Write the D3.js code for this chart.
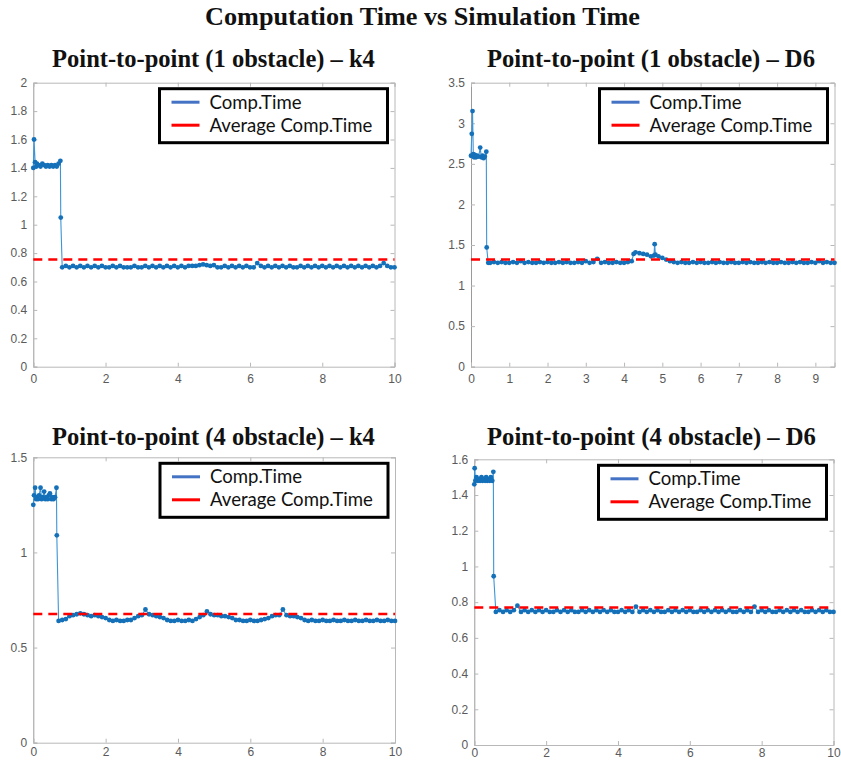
<!DOCTYPE html>
<html><head><meta charset="utf-8">
<script src="https://cdn.jsdelivr.net/npm/d3@7"></script>
<style>body{margin:0;background:#fff}</style>
</head><body>
<svg id="c" width="841" height="763"></svg>
<script>
// ---------------- DATA ----------------
const mainTitle = "Computation Time vs Simulation Time";
const panelTitles = [
  "Point-to-point (1 obstacle) – k4",
  "Point-to-point (1 obstacle) – D6",
  "Point-to-point (4 obstacle) – k4",
  "Point-to-point (4 obstacle) – D6"
];
const legendLabels = ["Comp.Time", "Average Comp.Time"];

// Panel 1: 1 obstacle, k4
const k4_1_time = [0,0.02,0.05,0.08,0.1,0.15,0.2,0.25,0.3,0.35,0.4,0.45,0.5,0.55,0.6,0.65,0.7,0.75,0.76,
  0.8,0.9,1,1.1,1.2,1.3,1.4,1.5,1.6,1.7,
  1.8,1.9,2,2.1,2.2,2.3,2.4,2.5,2.6,2.7,
  2.8,2.9,3,3.1,3.2,3.3,3.4,3.5,3.6,3.7,
  3.8,3.9,4,4.1,4.2,4.3,4.4,4.5,4.6,4.7,
  4.8,4.9,5,5.1,5.2,5.3,5.4,5.5,5.6,5.7,
  5.8,5.9,6,6.1,6.2,6.3,6.4,6.5,6.6,6.7,
  6.8,6.9,7,7.1,7.2,7.3,7.4,7.5,7.6,7.7,
  7.8,7.9,8,8.1,8.2,8.3,8.4,8.5,8.6,8.7,
  8.8,8.9,9,9.1,9.2,9.3,9.4,9.5,9.6,9.7,
  9.8,9.9,10];
const k4_1_comp = [1.40,1.60,1.44,1.41,1.43,1.42,1.41,1.43,1.42,1.41,1.42,1.41,1.42,1.41,1.42,1.41,1.43,1.45,1.05,
  0.70,0.71,0.70,0.71,0.70,0.71,0.70,0.71,0.70,0.71,
  0.70,0.71,0.70,0.70,0.71,0.70,0.71,0.70,0.70,0.70,
  0.71,0.70,0.70,0.71,0.70,0.71,0.70,0.71,0.70,0.71,
  0.70,0.71,0.70,0.71,0.70,0.71,0.71,0.71,0.715,0.72,
  0.715,0.71,0.715,0.70,0.70,0.71,0.70,0.71,0.70,0.71,
  0.70,0.71,0.70,0.70,0.73,0.71,0.70,0.71,0.70,0.71,
  0.70,0.71,0.70,0.71,0.70,0.70,0.71,0.70,0.71,0.70,
  0.71,0.70,0.71,0.70,0.71,0.70,0.71,0.70,0.71,0.70,
  0.71,0.70,0.71,0.70,0.71,0.70,0.71,0.70,0.71,0.73,
  0.71,0.70,0.70];
const k4_1_avg = 0.755;
const k4_1_xTicks = [0,2,4,6,8,10];
const k4_1_yTicks = [0,0.2,0.4,0.6,0.8,1,1.2,1.4,1.6,1.8,2];

// Panel 2: 1 obstacle, D6
const d6_1_time = [0,0.02,0.04,0.06,0.08,0.1,0.13,0.16,0.2,0.24,0.27,0.3,0.33,0.36,0.4,0.41,
  0.45,
  0.5,0.6,0.7,0.8,0.9,1,1.1,1.2,1.3,1.4,
  1.5,1.6,1.7,1.8,1.9,2,2.1,2.2,2.3,2.4,
  2.5,2.6,2.7,2.8,2.9,3,3.1,3.2,3.3,3.4,
  3.5,3.6,3.7,3.8,3.9,4,4.1,4.2,
  4.25,4.3,4.4,4.5,4.6,4.7,
  4.78,4.8,4.82,
  4.9,5,5.1,5.2,5.3,
  5.4,5.5,5.6,5.7,5.8,5.9,6,6.1,6.2,6.3,
  6.4,6.5,6.6,6.7,6.8,6.9,7,7.1,7.2,7.3,
  7.4,7.5,7.6,7.7,7.8,7.9,8,8.1,8.2,8.3,
  8.4,8.5,8.6,8.7,8.8,8.9,9,9.1,9.2,9.3,
  9.4,9.5];
const d6_1_comp = [2.60,2.87,3.15,2.62,2.58,2.61,2.58,2.60,2.59,2.70,2.58,2.60,2.57,2.59,2.65,1.47,
  1.28,
  1.28,1.29,1.28,1.29,1.28,1.28,1.29,1.28,1.30,1.28,
  1.29,1.28,1.28,1.29,1.28,1.29,1.28,1.28,1.29,1.28,
  1.29,1.28,1.28,1.29,1.28,1.30,1.28,1.29,1.33,1.28,
  1.29,1.28,1.28,1.29,1.28,1.28,1.29,1.30,
  1.39,1.41,1.40,1.39,1.38,1.36,
  1.37,1.51,1.38,
  1.36,1.34,1.32,1.30,1.29,
  1.28,1.29,1.28,1.28,1.29,1.28,1.29,1.28,1.28,1.29,
  1.28,1.29,1.28,1.28,1.29,1.28,1.28,1.29,1.28,1.29,
  1.28,1.28,1.29,1.28,1.29,1.28,1.28,1.29,1.28,1.28,
  1.29,1.28,1.29,1.28,1.28,1.29,1.28,1.30,1.28,1.29,
  1.28,1.28];
const d6_1_avg = 1.32;
const d6_1_xTicks = [0,1,2,3,4,5,6,7,8,9];
const d6_1_yTicks = [0,0.5,1,1.5,2,2.5,3,3.5];

// Panel 3: 4 obstacles, k4
const k4_4_time = [0,0.02,0.05,0.08,0.1,0.13,0.16,0.2,0.23,0.26,0.3,0.33,0.36,0.4,0.43,0.46,0.5,0.53,0.56,0.6,0.64,0.65,
  0.7,0.8,0.9,1,1.1,1.2,1.3,1.4,1.5,1.6,
  1.7,1.8,1.9,2,2.1,2.2,2.3,2.4,2.5,2.6,
  2.7,2.8,2.9,3,3.1,3.2,3.3,3.4,3.5,3.6,
  3.7,3.8,3.9,4,4.1,4.2,4.3,4.4,4.5,4.6,
  4.7,4.8,4.9,5,5.1,5.2,5.3,5.4,5.5,5.6,
  5.7,5.8,5.9,6,6.1,6.2,6.3,6.4,6.5,6.6,
  6.7,6.8,6.9,7,7.1,7.2,7.3,7.4,7.5,7.6,
  7.7,7.8,7.9,8,8.1,8.2,8.3,8.4,8.5,8.6,
  8.7,8.8,8.9,9,9.1,9.2,9.3,9.4,9.5,9.6,
  9.7,9.8,9.9,10];
const k4_4_comp = [1.25,1.30,1.34,1.28,1.29,1.28,1.30,1.34,1.28,1.29,1.32,1.28,1.29,1.28,1.30,1.31,1.28,1.29,1.28,1.29,1.34,1.09,
  0.64,0.645,0.65,0.665,0.67,0.675,0.68,0.675,0.67,0.665,
  0.67,0.665,0.66,0.655,0.645,0.64,0.645,0.64,0.64,0.645,
  0.645,0.655,0.665,0.67,0.70,0.675,0.67,0.665,0.66,0.655,
  0.645,0.64,0.64,0.645,0.64,0.64,0.645,0.64,0.65,0.66,
  0.67,0.69,0.675,0.67,0.67,0.665,0.665,0.66,0.655,0.645,
  0.645,0.64,0.64,0.645,0.64,0.64,0.645,0.65,0.655,0.665,
  0.67,0.67,0.70,0.67,0.665,0.665,0.66,0.655,0.645,0.64,
  0.645,0.64,0.64,0.645,0.64,0.64,0.645,0.64,0.64,0.645,
  0.64,0.64,0.645,0.64,0.64,0.645,0.64,0.64,0.645,0.64,
  0.64,0.645,0.64,0.64];
const k4_4_avg = 0.676;
const k4_4_xTicks = [0,2,4,6,8,10];
const k4_4_yTicks = [0,0.5,1,1.5];

// Panel 4: 4 obstacles, D6
const d6_4_time = [0,0.01,0.03,0.06,0.1,0.13,0.16,0.2,0.23,0.26,0.3,0.33,0.36,0.4,0.43,0.46,0.5,0.53,0.54,
  0.6,0.7,0.8,0.9,1,1.1,1.2,1.3,1.4,1.5,
  1.6,1.7,1.8,1.9,2,2.1,2.2,2.3,2.4,2.5,
  2.6,2.7,2.8,2.9,3,3.1,3.2,3.3,3.4,3.5,
  3.6,3.7,3.8,3.9,4,4.1,4.2,4.3,4.4,4.5,
  4.6,4.7,4.8,4.9,5,5.1,5.2,5.3,5.4,5.5,
  5.6,5.7,5.8,5.9,6,6.1,6.2,6.3,6.4,6.5,
  6.6,6.7,6.8,6.9,7,7.1,7.2,7.3,7.4,7.5,
  7.6,7.7,7.8,7.9,8,8.1,8.2,8.3,8.4,8.5,
  8.6,8.7,8.8,8.9,9,9.1,9.2,9.3,9.4,9.5,
  9.6,9.7,9.8,9.9,10];
const d6_4_comp = [1.46,1.55,1.48,1.50,1.48,1.49,1.48,1.50,1.48,1.49,1.48,1.50,1.48,1.49,1.48,1.50,1.48,1.53,0.945,
  0.745,0.755,0.745,0.755,0.745,0.755,0.78,0.745,0.755,0.745,
  0.755,0.745,0.755,0.745,0.755,0.745,0.745,0.755,0.745,0.755,
  0.745,0.755,0.745,0.745,0.755,0.745,0.755,0.745,0.755,0.745,
  0.755,0.745,0.755,0.745,0.745,0.755,0.745,0.755,0.745,0.775,
  0.745,0.755,0.745,0.755,0.745,0.755,0.745,0.745,0.755,0.745,
  0.755,0.745,0.755,0.745,0.755,0.745,0.745,0.755,0.745,0.755,
  0.745,0.755,0.745,0.755,0.745,0.755,0.745,0.745,0.755,0.745,
  0.755,0.745,0.775,0.745,0.755,0.745,0.755,0.745,0.745,0.755,
  0.745,0.755,0.745,0.755,0.745,0.755,0.745,0.745,0.755,0.745,
  0.755,0.745,0.755,0.745,0.745];
const d6_4_avg = 0.77;
const d6_4_xTicks = [0,2,4,6,8,10];
const d6_4_yTicks = [0,0.2,0.4,0.6,0.8,1,1.2,1.4,1.6];

// ---------------- LAYOUT ----------------
const panels = [
  {title: panelTitles[0], time: k4_1_time, comp: k4_1_comp, avg: k4_1_avg, xTicks: k4_1_xTicks, yTicks: k4_1_yTicks,
   xMax: 10, yMax: 2, box: {l: 33.3, r: 394.5, t: 82.7, b: 366.7}, titleY: 67, titleX: [52, 375], pad: 8},
  {title: panelTitles[1], time: d6_1_time, comp: d6_1_comp, avg: d6_1_avg, xTicks: d6_1_xTicks, yTicks: d6_1_yTicks,
   xMax: 9.5, yMax: 3.5, box: {l: 471, r: 834.5, t: 82.7, b: 366.7}, titleY: 67, titleX: [487, 815], pad: 8},
  {title: panelTitles[2], time: k4_4_time, comp: k4_4_comp, avg: k4_4_avg, xTicks: k4_4_xTicks, yTicks: k4_4_yTicks,
   xMax: 10, yMax: 1.5, box: {l: 33.3, r: 395, t: 457.3, b: 742.7}, titleY: 445, titleX: [52, 375], pad: 5},
  {title: panelTitles[3], time: d6_4_time, comp: d6_4_comp, avg: d6_4_avg, xTicks: d6_4_xTicks, yTicks: d6_4_yTicks,
   xMax: 10, yMax: 1.6, box: {l: 474.3, r: 833.5, t: 459.3, b: 745}, titleY: 445, titleX: [487, 816], pad: 3}
];

const svg = d3.select('#c');
const serif = "'Liberation Serif','DejaVu Serif',serif";
const sans = "'Liberation Sans',Arial,sans-serif";
const legendFont = "Lato,'Open Sans',sans-serif";

function fitWidth(sel, target) {
  const w = sel.node().getComputedTextLength();
  const fs = parseFloat(sel.attr('font-size'));
  sel.attr('font-size', (fs * target / w).toFixed(2));
}

// main title
const mt = svg.append('text').attr('x', 422.5).attr('y', 25).attr('text-anchor', 'middle')
  .attr('font-family', serif).attr('font-weight', 'bold').attr('font-size', 20).attr('fill', '#111')
  .text(mainTitle);
fitWidth(mt, 435);

panels.forEach(p => {
  const B = p.box;
  const x = d3.scaleLinear().domain([0, p.xMax]).range([B.l, B.r]);
  const y = d3.scaleLinear().domain([0, p.yMax]).range([B.b, B.t]);
  const g = svg.append('g');

  // title
  const tt = svg.append('text').attr('x', (p.titleX[0] + p.titleX[1]) / 2).attr('y', p.titleY)
    .attr('text-anchor', 'middle').attr('font-family', serif).attr('font-weight', 'bold')
    .attr('font-size', 20).attr('fill', '#111').text(p.title);
  fitWidth(tt, p.titleX[1] - p.titleX[0]);

  // axes
  const fmt = d3.format('~g');
  const axL = g.append('g').attr('transform', `translate(${B.l},0)`)
    .call(d3.axisLeft(y).tickValues(p.yTicks).tickFormat(fmt).tickSize(-4).tickPadding(6));
  const axR = g.append('g').attr('transform', `translate(${B.r},0)`)
    .call(d3.axisRight(y).tickValues(p.yTicks).tickFormat('').tickSize(-4));
  const axB = g.append('g').attr('transform', `translate(0,${B.b})`)
    .call(d3.axisBottom(x).tickValues(p.xTicks).tickFormat(fmt).tickSize(-4).tickPadding(p.pad));
  const axT = g.append('g').attr('transform', `translate(0,${B.t})`)
    .call(d3.axisTop(x).tickValues(p.xTicks).tickFormat('').tickSize(-4));
  [axL, axR, axB, axT].forEach(a => {
    a.select('.domain').attr('stroke', '#b8b8b8').attr('stroke-width', 1);
    a.selectAll('.tick line').attr('stroke', '#b8b8b8');
    a.selectAll('.tick text').attr('fill', '#5a5a5a').attr('font-family', sans).attr('font-size', 12);
  });
  axL.select('.domain').attr('stroke', '#9a9a9a');

  // data
  const pts = p.time.map((t, i) => ({t, v: p.comp[i]}));
  const line = d3.line().x(d => x(d.t)).y(d => y(d.v));
  g.append('path').datum(pts).attr('d', line).attr('fill', 'none')
    .attr('stroke', '#3d95d6').attr('stroke-width', 1.1);
  g.append('g').selectAll('circle').data(pts).join('circle')
    .attr('cx', d => x(d.t)).attr('cy', d => y(d.v)).attr('r', 2.4).attr('fill', '#1470b8');

  // average
  g.append('line').attr('x1', B.l).attr('x2', B.r).attr('y1', y(p.avg)).attr('y2', y(p.avg))
    .attr('stroke', '#ff0000').attr('stroke-width', 2.5).attr('stroke-dasharray', '9,6');

  // legend
  const lw = 228, lh = 54;
  const lx = B.r - 7 - lw, ly = B.t + 6;
  const lg = svg.append('g').attr('transform', `translate(${lx},${ly})`);
  lg.append('rect').attr('width', lw).attr('height', lh).attr('fill', '#fff')
    .attr('stroke', '#000').attr('stroke-width', 3);
  const colors = ['#4472C4', '#ff0000'];
  legendLabels.forEach((lab, i) => {
    const yy = 13.5 + i * 23;
    lg.append('line').attr('x1', 12).attr('x2', 40).attr('y1', yy).attr('y2', yy)
      .attr('stroke', colors[i]).attr('stroke-width', 3);
    const t = lg.append('text').attr('x', 50).attr('y', yy).attr('dy', '0.35em')
      .attr('font-family', legendFont).attr('font-size', 18).attr('fill', '#111').text(lab);
    if (i === 1) fitWidth(t, 163);
  });
  const fs = lg.selectAll('text').filter((d, i) => i === 1).attr('font-size');
  lg.selectAll('text').attr('font-size', fs);
});
</script>
</body></html>
